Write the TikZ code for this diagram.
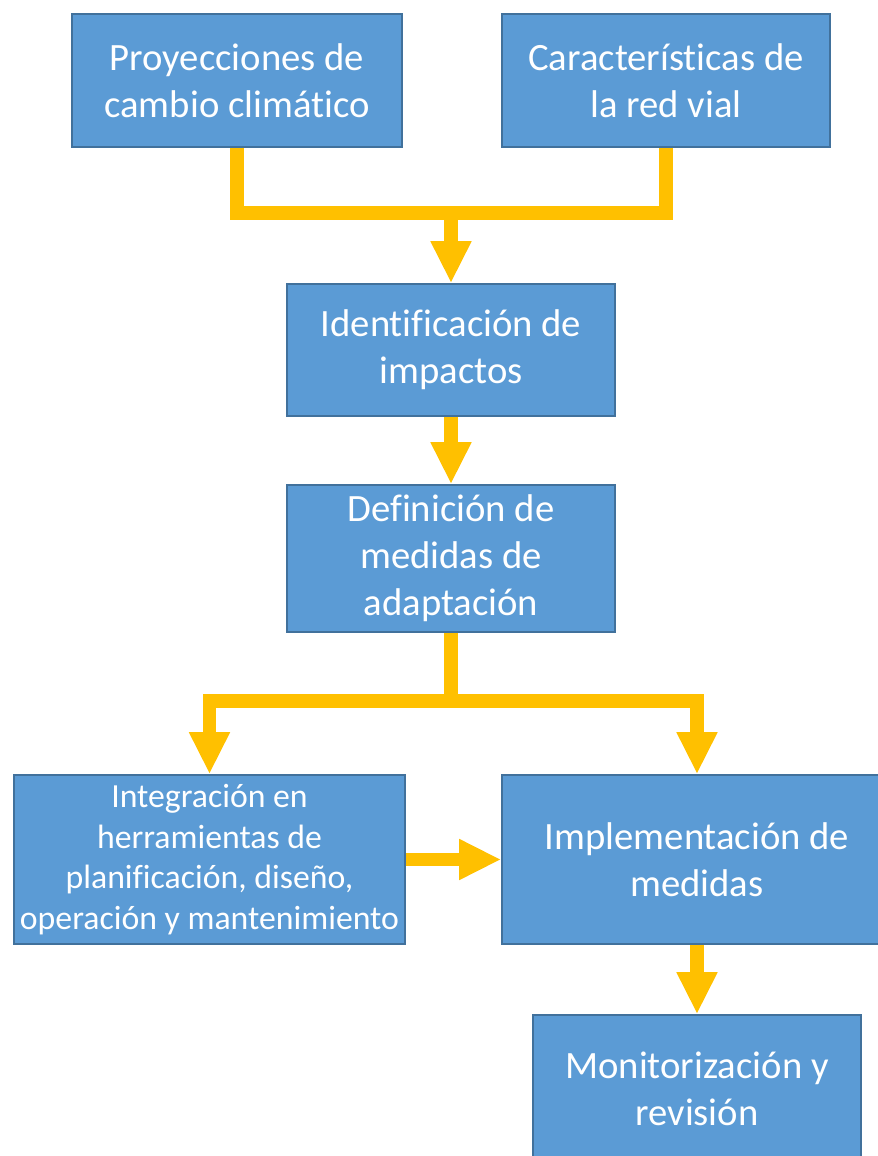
\documentclass[tikz,border=0pt]{standalone}
\usepackage{fontspec}
\setmainfont{Carlito}[Ligatures=NoCommon]
\usetikzlibrary{arrows.meta}
\definecolor{boxfill}{HTML}{5B9BD5}
\definecolor{boxline}{HTML}{41719C}
\definecolor{flow}{HTML}{FFC000}

\begin{document}
\begin{tikzpicture}[x=0.025cm,y=-0.025cm,
  box/.style={draw=boxline,line width=1.1pt,fill=boxfill,text=white,align=center,inner sep=0pt,
    font=\fontsize{27.5}{33.5}\selectfont},
  flowline/.style={draw=flow,line width=0.33cm,line join=miter},
  flowarrow/.style={flowline,-{Triangle[width=0.95cm,length=1.05cm]},flow}]
\useasboundingbox (0,0) rectangle (878,1156);
\clip (0,0) rectangle (878,1156);
\fill[white] (0,0) rectangle (878,1156);
%\draw[step=100] (0,0) grid (878,1156);
\node[box,minimum width=8.25cm,minimum height=3.325cm] (proy) at (237,80.5) {Proyecciones de\\cambio climático};
\node[box,minimum width=8.2cm,minimum height=3.325cm] (carac) at (666,80.5) {Características de\\la red vial};
\node[box,minimum width=8.2cm,minimum height=3.3cm] (ident) at (451,350) {Identificación de\\impactos};
\node[box,minimum width=8.2cm,minimum height=3.675cm] (defin) at (451,558.5) {Definición de\\medidas de\\adaptación};
\node[box,minimum width=9.775cm,minimum height=4.225cm,font=\fontsize{24}{29}\selectfont] (integ) at (209.5,859.5) {Integración en\\herramientas de\\planificación, diseño,\\operación y mantenimiento};
\node[box,minimum width=9.75cm,minimum height=4.225cm] (implem) at (697,859.5) {Implementación de\\medidas};
\node[box,minimum width=8.2cm,minimum height=3.7cm] (monit) at (697,1089) {Monitorización y\\revisión};
\coordinate (merge) at (451,213);
\coordinate (split) at (451,701);
\draw[flowline] (proy.south) |- (merge) -| (carac.south);
\draw[flowarrow] (merge) -- (ident.north);
\draw[flowarrow] (ident.south) -- (defin.north);
\draw[flowline] (defin.south) -- (split);
\draw[flowarrow] (split) -| (integ.north);
\draw[flowarrow] (split) -| (implem.north);
\draw[flowarrow] (integ.east) -- (implem.west);
\draw[flowarrow] (implem.south) -- (monit.north);
\end{tikzpicture}
\end{document}
